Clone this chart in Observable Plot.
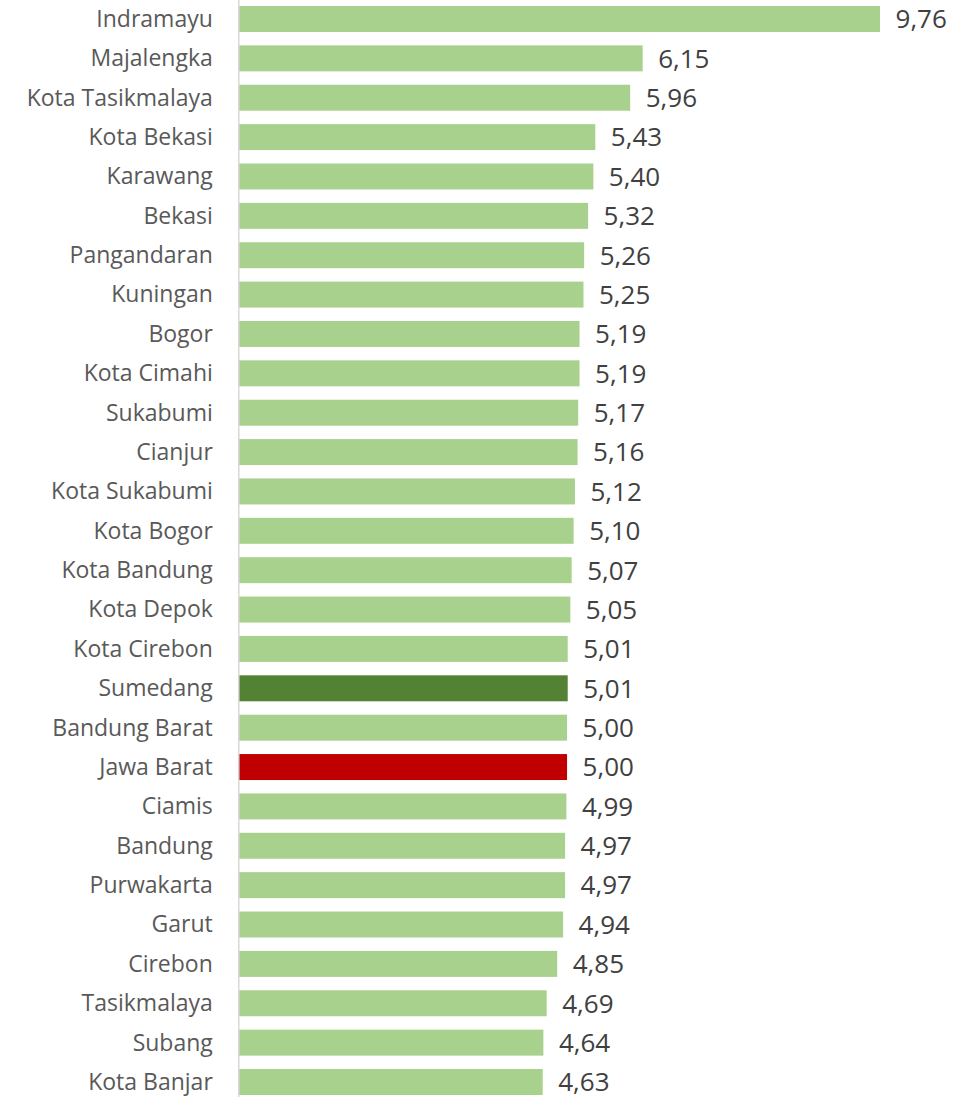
<!DOCTYPE html>
<html>
<head>
<meta charset="utf-8">
<script src="https://cdn.jsdelivr.net/npm/d3@7"></script>
<script src="https://cdn.jsdelivr.net/npm/@observablehq/plot@0.6"></script>
<style>
  html, body { margin: 0; padding: 0; background: #ffffff; }
  #chart svg { display: block; }
</style>
</head>
<body>
<div id="chart"></div>
<script>
const regions = ["Indramayu","Majalengka","Kota Tasikmalaya","Kota Bekasi","Karawang","Bekasi","Pangandaran","Kuningan","Bogor","Kota Cimahi","Sukabumi","Cianjur","Kota Sukabumi","Kota Bogor","Kota Bandung","Kota Depok","Kota Cirebon","Sumedang","Bandung Barat","Jawa Barat","Ciamis","Bandung","Purwakarta","Garut","Cirebon","Tasikmalaya","Subang","Kota Banjar"];
const values = [9.76,6.15,5.96,5.43,5.40,5.32,5.26,5.25,5.19,5.19,5.17,5.16,5.12,5.10,5.07,5.05,5.01,5.01,5.00,5.00,4.99,4.97,4.97,4.94,4.85,4.69,4.64,4.63];
const highlight = {"Sumedang": "dark", "Jawa Barat": "province"};
const colors = {normal: "#a9d18e", dark: "#548235", province: "#c00000"};

const data = regions.map((r, i) => ({region: r, value: values[i], kind: highlight[r] || "normal"}));
const fmt = v => v.toFixed(2).replace(".", ",");

const chart = Plot.plot({
  width: 968,
  height: 1097,
  marginLeft: 0,
  marginRight: 0,
  marginTop: 0,
  marginBottom: 0,
  style: {fontFamily: "'Open Sans', sans-serif", background: "#ffffff"},
  x: {domain: [0, 10], range: [238.3, 238.3 + 657.5], axis: null},
  y: {domain: regions, range: [-0.7, 1101.7], paddingInner: 0.34, paddingOuter: 0.17, round: false, axis: null},
  marks: [
    Plot.barX(data, {x: "value", y: "region", fill: d => colors[d.kind]}),
    Plot.ruleX([0], {stroke: "#d9d9d9", strokeWidth: 1.5}),
    Plot.text(data, {x: 0, y: "region", text: "region", textAnchor: "end", dx: -26, fill: "#595959", fontSize: 23, dy: 0}),
    Plot.text(data, {x: "value", y: "region", text: d => fmt(d.value), textAnchor: "start", dx: 15, dy: 0.5, fill: "#404040", fontSize: 26})
  ]
});
document.getElementById("chart").appendChild(chart);
</script>
</body>
</html>
